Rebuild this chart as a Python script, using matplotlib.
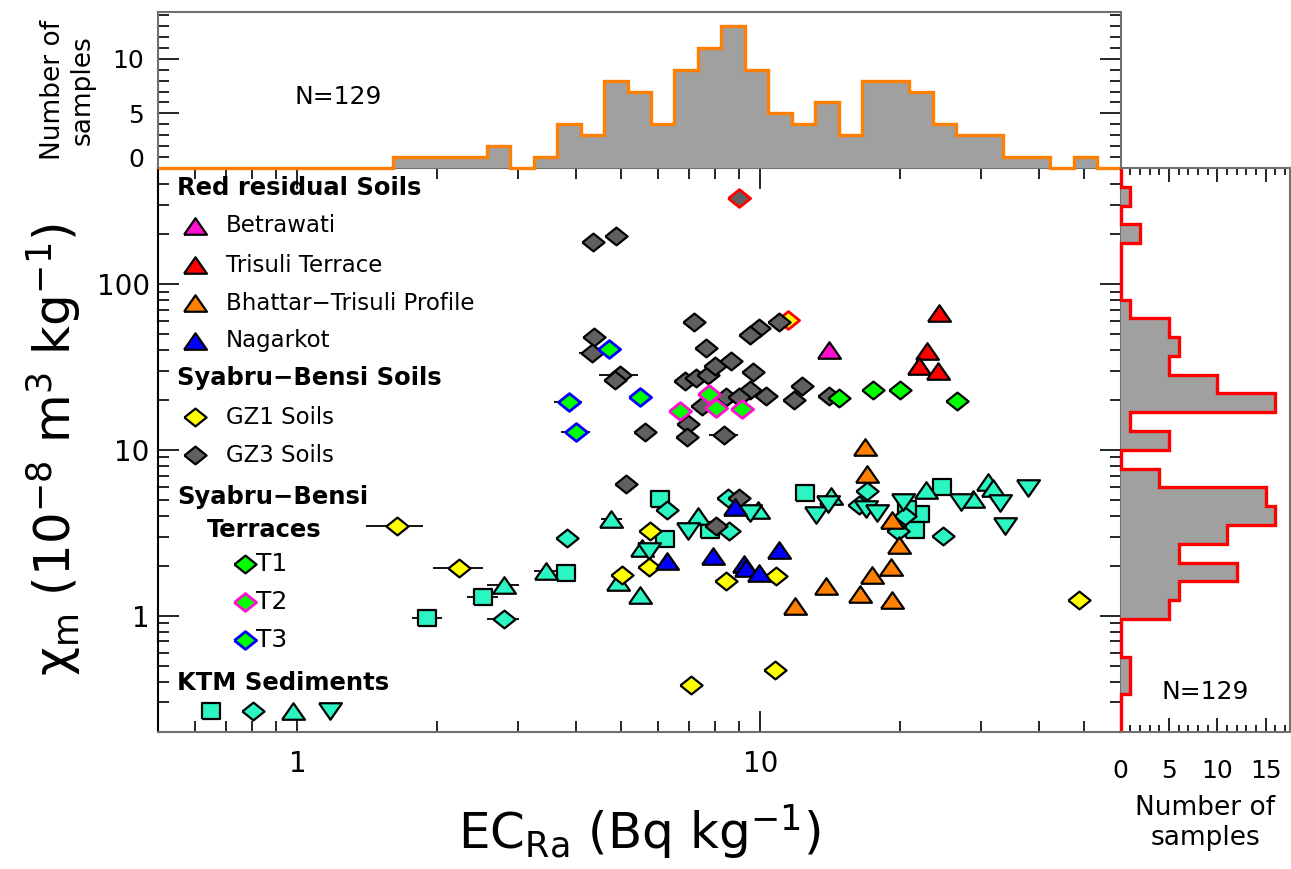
import numpy as np
import matplotlib.pyplot as plt
from matplotlib.ticker import FixedLocator, MultipleLocator, LogLocator, NullFormatter, FuncFormatter

plt.rcParams['font.family'] = ['DejaVu Sans']
plt.rcParams['mathtext.default'] = 'regular'

# ---- scatter data (EC_Ra in Bq/kg, chi_m in 1e-8 m3/kg) ----
betrawati_x = [14.05]
betrawati_y = [40.0]
trisuli_x = [24.3, 22.9, 22.0, 24.2]
trisuli_y = [66.6, 39.6, 32.1, 29.9]
bhattar_x = [16.8, 17.0, 19.3, 19.9, 19.2, 17.4, 13.9, 16.4, 19.3, 11.9]
bhattar_y = [10.4, 7.17, 3.79, 2.68, 1.96, 1.77, 1.52, 1.36, 1.25, 1.15]
nagarkot_x = [8.8, 6.28, 7.92, 11.0, 9.22, 9.31, 9.96]
nagarkot_y = [4.55, 2.15, 2.30, 2.50, 2.05, 1.93, 1.82]

gz1_x = [1.64, 2.24, 5.03, 5.78, 5.76, 8.45, 10.8, 7.1, 10.76, 48.7]
gz1_y = [3.48, 1.95, 1.77, 3.25, 1.97, 1.63, 1.73, 0.38, 0.47, 1.24]
gz1_xerr = [0.23, 0.28, 0, 0, 0, 0, 0, 0.4, 0, 0]
gz1_red_x = [11.5]
gz1_red_y = [61.0]

gz3_x = [4.35, 4.89, 4.38, 4.33, 4.97, 4.85, 5.65, 5.13, 7.19, 11.0, 9.96, 9.5,
         7.64, 6.89, 7.27, 7.7, 7.97, 8.66, 9.64, 9.48, 8.45, 9.0, 10.3, 12.32,
         11.85, 14.1, 7.49, 6.97, 6.95, 8.36, 8.98, 8.03]
gz3_y = [180, 195, 47.7, 38.6, 28.3, 26.4, 12.9, 6.24, 59.0, 59.3, 54.6, 48.9,
         41.0, 26.1, 27.0, 28.4, 32.1, 34.4, 29.6, 23.0, 20.8, 20.8, 21.0, 24.1,
         20.0, 21.1, 18.3, 14.3, 12.0, 12.3, 5.15, 3.48]
gz3_xerr = [0, 0, 0, 0.28, 0.48, 0, 0.3, 0, 0, 0, 0, 0,
            0, 0, 0, 0, 0, 0, 0, 0, 0, 0, 0, 0,
            0, 0, 0, 0, 0, 0.6, 0, 0]
gz3_yerr = [0, 0, 0, 0, 0, 0, 0, 0, 8, 7, 0, 0,
            0, 3, 3, 0, 0, 0, 0, 0, 0, 0, 0, 0,
            0, 0, 0, 0, 0, 0, 0, 0]
gz3_red_x = [9.0]
gz3_red_y = [330]

t1_x = [14.8, 17.5, 20.0, 26.6]
t1_y = [20.4, 22.8, 23.0, 19.7]
t2_x = [7.73, 6.72, 8.03, 9.13]
t2_y = [21.7, 17.2, 17.8, 17.6]
t3_x = [4.71, 3.86, 5.49, 4.0]
t3_y = [40.5, 19.3, 20.9, 12.9]
t3_xerr = [0.3, 0.27, 0, 0.28]

ktm_sq_x = [1.91, 2.52, 3.81, 6.06, 7.77, 6.24, 12.5, 24.7, 22.1, 21.6, 20.7]
ktm_sq_y = [0.97, 1.29, 1.82, 5.05, 3.3, 2.9, 5.53, 5.96, 4.11, 3.3, 4.4]
ktm_sq_xerr = [0.14, 0.19, 0.15, 0.25, 0, 0, 0, 0, 0, 0, 0]
ktm_di_x = [2.79, 3.83, 6.28, 8.5, 8.58, 16.3, 17.0, 20.5, 19.8, 24.8]
ktm_di_y = [0.96, 2.96, 4.35, 5.1, 3.22, 4.63, 5.61, 3.97, 3.22, 3.03]
ktm_di_xerr = [0.22, 0.2, 0, 0, 0, 0, 0, 0, 0, 0]
ktm_up_x = [2.79, 3.45, 4.77, 4.93, 5.49, 7.33, 9.9, 14.2, 22.8, 31.0, 31.8, 28.8, 5.55]
ktm_up_y = [1.54, 1.85, 3.82, 1.59, 1.34, 3.97, 4.35, 5.24, 5.74, 6.44, 5.87, 5.05, 2.55]
ktm_up_xerr = [0.22, 0.2, 0.25, 0, 0, 0, 0, 0, 0, 0, 0, 0, 0]
ktm_dn_x = [5.76, 6.98, 9.48, 13.2, 14.0, 16.9, 17.9, 20.3, 27.2, 33.0, 33.8, 37.9]
ktm_dn_y = [2.44, 3.22, 4.16, 4.06, 4.73, 4.37, 4.19, 4.82, 4.82, 4.79, 3.48, 5.87]

# ---- histograms (counts per log bin) ----
top_counts = [0, 0, 0, 0, 0, 0, 0, 0, 0, 0, 1, 1, 1, 1, 2, 0, 1, 4, 3, 8, 7,
              4, 9, 11, 13, 9, 5, 4, 6, 3, 8, 8, 7, 4, 3, 3, 1, 1, 0, 1, 0]
right_counts = [0, 0, 1, 1, 0, 0, 5, 6, 12, 6, 11, 16, 15, 4, 0, 5, 1, 16, 10,
                5, 6, 5, 1, 0, 0, 0, 2, 0, 1, 0]
n_samples = 129

W, H = 1291, 869
fig = plt.figure(figsize=(W / 100, H / 100), dpi=100)

def box(l, t, r, b):
    return [l / W, 1 - b / H, (r - l) / W, (b - t) / H]

L, R, T, B = 158, 1120.5, 168, 731.7
ax = fig.add_axes(box(L, T, R, B))
axt = fig.add_axes(box(L, 12.3, R, T))
axr = fig.add_axes(box(R, T, 1290, B))

spine_c = '#707070'
teal = '#2cf5c4'
green = '#00ff00'

tri_up = [(-1, -0.72), (1, -0.72), (0, 0.72), (-1, -0.72)]
tri_dn = [(-1, 0.72), (1, 0.72), (0, -0.72), (-1, 0.72)]
diam = [(-1, 0), (0, 0.8), (1, 0), (0, -0.8), (-1, 0)]
sq = [(-1, -0.85), (1, -0.85), (1, 0.85), (-1, 0.85), (-1, -0.85)]
MS_T, MS_D, MS_S = 16.5, 16, 13


def draw(a, xs, ys, marker, ms, fc, ec='black', ew=1.6, xerr=None, yerr=None, z=3, **kw):
    if xerr is not None or yerr is not None:
        a.errorbar(xs, ys, xerr=xerr, yerr=yerr, fmt='none', ecolor='black',
                   elinewidth=1.3, zorder=z - 0.5)
    a.plot(xs, ys, ls='none', marker=marker, ms=ms, mfc=fc, mec=ec, mew=ew, zorder=z, **kw)


# ---- main scatter ----
ax.set_xscale('log')
ax.set_yscale('log')
ax.set_xlim(0.5, 60)
ax.set_ylim(0.2, 500)

draw(ax, ktm_sq_x, ktm_sq_y, sq, MS_S, teal, xerr=ktm_sq_xerr)
draw(ax, ktm_di_x, ktm_di_y, diam, MS_D, teal, xerr=ktm_di_xerr)
draw(ax, ktm_up_x, ktm_up_y, tri_up, MS_T, teal, xerr=ktm_up_xerr)
draw(ax, ktm_dn_x, ktm_dn_y, tri_dn, MS_T, teal)
draw(ax, gz3_x, gz3_y, diam, MS_D, '#606060', xerr=gz3_xerr, yerr=gz3_yerr)
draw(ax, gz3_red_x, gz3_red_y, diam, MS_D, '#606060', ec='#ff0000', ew=2)
draw(ax, gz1_x, gz1_y, diam, MS_D, '#ffff00', xerr=gz1_xerr)
draw(ax, gz1_red_x, gz1_red_y, diam, MS_D, '#ffff00', ec='#ff0000', ew=2, z=2.8)
draw(ax, t1_x, t1_y, diam, MS_D, green)
draw(ax, t2_x, t2_y, diam, MS_D, green, ec='#ff10d0', ew=2)
draw(ax, t3_x, t3_y, diam, MS_D, green, ec='#0000ff', ew=2, xerr=t3_xerr)
draw(ax, nagarkot_x, nagarkot_y, tri_up, MS_T, '#0000ff')
draw(ax, bhattar_x, bhattar_y, tri_up, MS_T, '#ff8000')
draw(ax, trisuli_x, trisuli_y, tri_up, MS_T, '#ff0000')
draw(ax, betrawati_x, betrawati_y, tri_up, MS_T, '#ff10d0')

ax.xaxis.set_major_locator(FixedLocator([1, 10]))
ax.xaxis.set_minor_locator(LogLocator(base=10, subs=np.arange(2, 10)))
ax.xaxis.set_minor_formatter(NullFormatter())
ax.set_xticklabels(['1', '10'])
ax.yaxis.set_major_locator(FixedLocator([1, 10, 100]))
ax.yaxis.set_minor_locator(LogLocator(base=10, subs=np.arange(2, 10)))
ax.yaxis.set_minor_formatter(NullFormatter())
ax.set_yticklabels(['1', '10', '100'])
ax.tick_params(which='both', direction='in', top=True, right=True, width=1.2, labelsize=20)
ax.tick_params(which='major', length=15)
ax.tick_params(which='minor', length=8)
ax.tick_params(axis='x', which='major', pad=13)
ax.tick_params(axis='y', which='major', pad=6)
for s in ax.spines.values():
    s.set_color(spine_c)
    s.set_linewidth(1.5)
ax.spines['left'].set_color('black')

ax.set_xlabel(r'EC$_{Ra}$ (Bq kg$^{-1}$)', fontsize=36, labelpad=18)
ax.set_ylabel(r'$\chi_m$ (10$^{-8}$ m$^{3}$ kg$^{-1}$)', fontsize=36, labelpad=10)

# ---- legend drawn inside the main panel ----
def pos(px, py):
    return (px - L) / (R - L), (B - py) / (B - T)


def leg_text(px, py, s, bold=False, size=16.5):
    x, y = pos(px, py)
    ax.text(x, y, s, transform=ax.transAxes, ha='left', va='center', fontsize=size,
            fontweight='bold' if bold else 'normal')


def leg_mark(px, py, marker, ms, fc, ec='black', ew=1.6):
    x, y = pos(px, py)
    ax.plot([x], [y], transform=ax.transAxes, ls='none', marker=marker, ms=ms,
            mfc=fc, mec=ec, mew=ew, clip_on=False, zorder=5)


HS = 17.5
leg_text(177, 188, 'Red residual Soils', bold=True, size=HS)
leg_mark(195, 226, tri_up, MS_T, '#ff10d0')
leg_text(226, 226, 'Betrawati')
leg_mark(195, 265, tri_up, MS_T, '#ff0000')
leg_text(226, 265, 'Trisuli Terrace')
leg_mark(195, 303, tri_up, MS_T, '#ff8000')
leg_text(226, 303, 'Bhattar\u2212Trisuli Profile')
leg_mark(195, 341, tri_up, MS_T, '#0000ff')
leg_text(226, 341, 'Nagarkot')
leg_text(177, 378, 'Syabru\u2212Bensi Soils', bold=True, size=HS)
leg_mark(195, 417, diam, MS_D, '#ffff00')
leg_text(226, 417, 'GZ1 Soils')
leg_mark(195, 455, diam, MS_D, '#606060')
leg_text(226, 455, 'GZ3 Soils')
leg_text(177, 497, 'Syabru\u2212Bensi', bold=True, size=HS)
leg_text(207, 530, 'Terraces', bold=True, size=HS)
leg_mark(245, 564, diam, MS_D, green)
leg_text(256, 564, 'T1', size=18)
leg_mark(245, 602, diam, MS_D, green, ec='#ff10d0', ew=2)
leg_text(256, 602, 'T2', size=18)
leg_mark(245, 640, diam, MS_D, green, ec='#0000ff', ew=2)
leg_text(256, 640, 'T3', size=18)
leg_text(177, 683, 'KTM Sediments', bold=True, size=HS)
leg_mark(211, 711, sq, MS_S, teal)
leg_mark(253, 711, diam, MS_D, teal)
leg_mark(293, 711, tri_up, MS_T, teal)
leg_mark(330, 711, tri_dn, MS_T, teal)

# ---- top histogram ----
xedges = np.logspace(np.log10(0.5), np.log10(60), len(top_counts) + 1)
axt.set_xscale('log')
axt.set_xlim(0.5, 60)
axt.set_ylim(0, 14.25)
axt.stairs(top_counts, xedges, fill=True, color='#a0a0a0', zorder=1)
axt.stairs(top_counts, xedges, baseline=0, color='#ff8000', lw=2.4, clip_on=False, zorder=2)
axt.tick_params(axis='x', which='both', length=0, labelbottom=False)
axt.yaxis.set_major_locator(FixedLocator([5, 10]))
axt.yaxis.set_minor_locator(FixedLocator(np.arange(1, 15)))
axt.yaxis.set_minor_formatter(FuncFormatter(lambda v, p: '0' if v == 1 else ''))
axt.tick_params(axis='y', which='both', direction='in', left=True, right=True,
                width=1.2, labelsize=18, pad=10)
axt.tick_params(axis='y', which='major', length=15)
axt.tick_params(axis='y', which='minor', length=8)
for s in axt.spines.values():
    s.set_color(spine_c)
    s.set_linewidth(1.5)
axt.spines['bottom'].set_visible(False)
axt.set_ylabel('Number of\nsamples', fontsize=19, labelpad=12)
axt.text(0.187, 0.456, f'N={n_samples}', transform=axt.transAxes, ha='center', va='center', fontsize=18)

# ---- right histogram ----
yedges = np.logspace(np.log10(0.2), np.log10(500), len(right_counts) + 1)
axr.set_yscale('log')
axr.set_ylim(0.2, 500)
axr.set_xlim(0, 17.5)
axr.stairs(right_counts, yedges, orientation='horizontal', fill=True, color='#a0a0a0', zorder=1)
axr.stairs(right_counts, yedges, orientation='horizontal', baseline=0, color='#ff0000',
           lw=2.4, clip_on=False, zorder=2)
axr.xaxis.set_major_locator(FixedLocator([0, 5, 10, 15]))
axr.xaxis.set_minor_locator(MultipleLocator(1))
axr.tick_params(axis='x', which='both', direction='in', top=True, bottom=True,
                width=1.2, labelsize=18, pad=20)
axr.tick_params(axis='x', which='major', length=10)
axr.tick_params(axis='x', which='minor', length=5)
axr.tick_params(axis='y', which='both', left=False, right=False, labelleft=False)
for s in axr.spines.values():
    s.set_color(spine_c)
    s.set_linewidth(1.5)
axr.spines['left'].set_visible(False)
axr.set_xlabel('Number of\nsamples', fontsize=19, labelpad=8)
axr.text(0.5, 0.07, f'N={n_samples}', transform=axr.transAxes, ha='center', va='center', fontsize=18)

fig.savefig('out.png', dpi=100)
